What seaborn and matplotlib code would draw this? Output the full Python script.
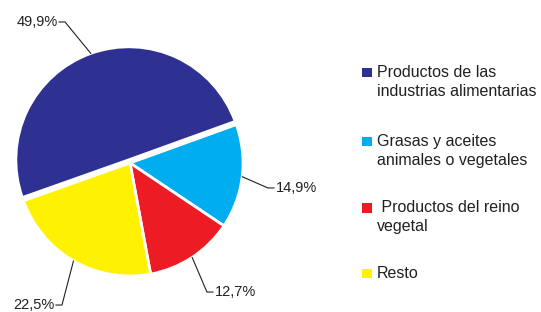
import matplotlib
matplotlib.use('Agg')
import matplotlib.pyplot as plt
import numpy as np
import seaborn as sns
from matplotlib.patches import Rectangle

# data
categories = ['Productos de las\nindustrias alimentarias',
              'Grasas y aceites\nanimales o vegetales',
              ' Productos del reino\nvegetal',
              'Resto']
shares = [49.9, 14.9, 12.7, 22.5]
colors = ['#2e3192', '#00aeef', '#ed1c24', '#fff200']

sns.set_style('white')
plt.rcParams['font.family'] = ['Liberation Sans', 'DejaVu Sans']
txt_color = '#231f20'

W, H = 541, 312
fig = plt.figure(figsize=(W / 100, H / 100), dpi=100)

# pie centre (130,163) px, radius 113 px
cx, cy, r = 130, 163, 113
ax = fig.add_axes([(cx - r) / W, (H - cy - r) / H, 2 * r / W, 2 * r / H])
wedges, _ = ax.pie(shares, colors=colors, startangle=199.5, counterclock=False,
                   explode=[0.03, 0, 0, 0], radius=1,
                   wedgeprops=dict(edgecolor='white', linewidth=2))
ax.set_xlim(-1, 1)
ax.set_ylim(-1, 1)
ax.set_aspect('equal')
ax.axis('off')

# leader lines: (elbow x, elbow y, side)
leaders = [(-0.575, 1.248, -1), (1.221, -0.221, 1), (0.681, -1.142, 1), (-0.602, -1.257, -1)]
for w, v, (ex, ey, side) in zip(wedges, shares, leaders):
    ang = np.deg2rad((w.theta1 + w.theta2) / 2)
    c = w.center
    sx = c[0] + w.r * np.cos(ang)
    sy = c[1] + w.r * np.sin(ang)
    hx = ex + side * 0.055
    ax.plot([sx, ex, hx], [sy, ey, ey], color=txt_color, lw=0.8, clip_on=False)
    label = f'{v:.1f}'.replace('.', ',') + '%'
    ax.text(hx + side * 0.012, ey, label, ha='left' if side > 0 else 'right',
            va='center', fontsize=10.5, color=txt_color, clip_on=False)

# legend drawn by hand, baselines of first lines in px, 19 px per line
leg_base = [77, 146, 212.5, 278]
for name, col, py in zip(categories, colors, leg_base):
    fig.patches.append(Rectangle((362 / W, (H - py) / H), 10 / W, 9.5 / H,
                                 transform=fig.transFigure, facecolor=col, edgecolor='none'))
    for i, line in enumerate(name.split('\n')):
        fig.text(377 / W, (H - py - 19 * i) / H, line, ha='left', va='baseline',
                 fontsize=11.5, color=txt_color)

fig.savefig('out.png', dpi=100)
